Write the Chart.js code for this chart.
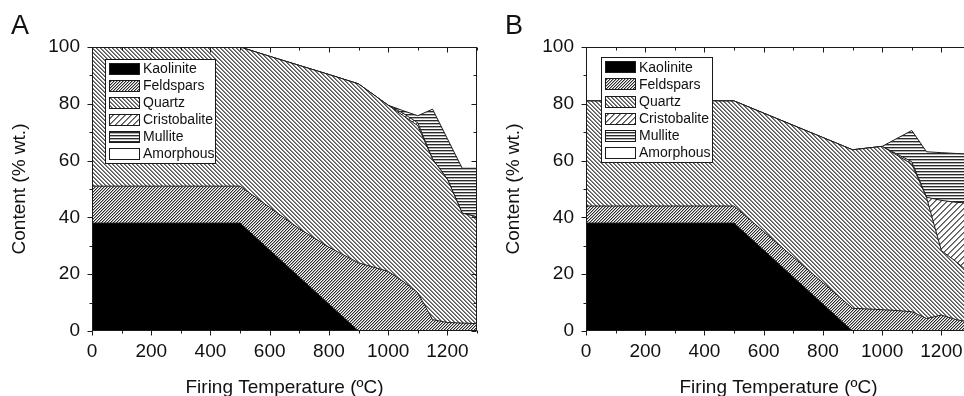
<!DOCTYPE html>
<html>
<head>
<meta charset="utf-8">
<script src="https://cdn.jsdelivr.net/npm/chart.js@4.4.1/dist/chart.umd.min.js"></script>
<style>
  html, body { margin: 0; padding: 0; background: #fff; overflow: hidden; width: 964px; height: 396px; }
  .panel { position: absolute; top: 0; width: 490px; height: 396px; }
  #panelA { left: 0; }
  #panelB { left: 494px; }
</style>
</head>
<body>
<div class="panel" id="panelA"><canvas id="chartA"></canvas></div>
<div class="panel" id="panelB"><canvas id="chartB"></canvas></div>
<script>
// Firing temperatures (ºC) shared by both panels
const temperatures = [0, 500, 600, 700, 800, 900, 1000, 1050, 1100, 1150, 1200, 1250, 1300];
const phases = ['Kaolinite', 'Feldspars', 'Quartz', 'Cristobalite', 'Mullite', 'Amorphous'];
const xTickValues = [0, 200, 400, 600, 800, 1000, 1200];
const yTickValues = [0, 20, 40, 60, 80, 100];

// Panel A - content of each phase (% wt.), stacked bottom to top
const kaoliniteA    = [38, 38, 28.5, 19, 9.5, 0, 0, 0, 0, 0, 0, 0, 0];
const feldsparsA    = [13, 13, 15, 17, 20, 24, 21, 17.5, 13.5, 4, 3, 2.8, 2.6];
const quartzA       = [49, 49, 53.2, 57.5, 60.8, 63, 58.5, 58.4, 58.8, 56.5, 50.5, 38.7, 37.6];
const cristobaliteA = [0, 0, 0, 0, 0, 0, 0, 0.8, 1.0, 0, 0, 0, 0];
const mulliteA      = [0, 0, 0, 0, 0, 0, 0, 0.9, 2.5, 17.6, 14.2, 15.8, 17.1];
const amorphousA    = [0, 0, 3.3, 6.5, 9.7, 13, 20.5, 22.4, 24.2, 21.9, 32.3, 42.7, 42.7];

// Panel B
const kaoliniteB    = [38, 38, 28.5, 19, 9.5, 0, 0, 0, 0, 0, 0, 0, 0];
const feldsparsB    = [6, 6, 6.5, 7, 7.5, 8, 7.5, 7.2, 6.8, 4.4, 5.6, 4, 3];
const quartzB       = [37, 37, 41.7, 46.4, 51.1, 55.8, 57.5, 54.7, 52, 42.5, 22.7, 20.4, 17];
const cristobaliteB = [0, 0, 0, 0, 0, 0, 0, 0.4, 0.8, 0.2, 17.7, 20.9, 25];
const mulliteB      = [0, 0, 0, 0, 0, 0, 0, 5.5, 11, 16, 16.8, 17.2, 17.3];
const amorphousB    = [19, 19, 23.3, 27.6, 31.9, 36.2, 35, 32.2, 29.4, 36.9, 37.2, 37.5, 37.7];

const FONT = "'Liberation Sans', Arial, sans-serif";

// pixel hatch tiles: dir '/', '\\' or '-'; shades = colours of successive pixels in a stroke
function hatch(ctx, size, dir, shades) {
    const c = document.createElement('canvas');
    c.width = size; c.height = size;
    const g = c.getContext('2d');
    g.fillStyle = '#fff';
    g.fillRect(0, 0, size, size);
    for (let r = 0; r < size; r++) {
        if (dir === '-') {
            if (r < shades.length) { g.fillStyle = shades[r]; g.fillRect(0, r, size, 1); }
            continue;
        }
        const x0 = dir === '/' ? size - 1 - r : r;
        shades.forEach((col, k) => {
            g.fillStyle = col;
            g.fillRect((x0 + k) % size, r, 1, 1);
        });
    }
    return ctx.createPattern(c, 'repeat');
}

function phaseFills(ctx) {
    return [
        '#000',
        hatch(ctx, 3, '/', ['#2a2a2a', '#a8a8a8']),
        hatch(ctx, 4, '\\', ['#555', '#8a8a8a']),
        hatch(ctx, 6, '/', ['#555', '#8a8a8a']),
        hatch(ctx, 3, '-', ['#2a2a2a', '#b0b0b0']),
        '#fff'
    ];
}

// frame with inward ticks on top/right, outward on bottom/left
const frameTicks = {
    id: 'frameTicks',
    afterDatasetsDraw(chart) {
        const { ctx, chartArea: a, scales: { x, y } } = chart;
        const L = Math.round(a.left) + 0.5, R = Math.round(a.right) - 0.5;
        const T = Math.round(a.top) + 0.5, B = Math.round(a.bottom) - 0.5;
        ctx.save();
        ctx.strokeStyle = '#1a1a1a';
        ctx.lineWidth = 1;
        ctx.strokeRect(L, T, R - L, B - T);
        ctx.beginPath();
        const xs = [];
        xTickValues.forEach(v => { xs.push([v, 5]); xs.push([v + 100, 3]); });
        xs.forEach(([v, len]) => {
            const px = Math.round(x.getPixelForValue(v)) + 0.5;
            if (px > R + 1) return;
            ctx.moveTo(px, B); ctx.lineTo(px, B + len);
            ctx.moveTo(px, T); ctx.lineTo(px, T + len);
        });
        const ys = [];
        yTickValues.forEach(v => { ys.push([v, 5]); if (v < 100) ys.push([v + 10, 3]); });
        ys.forEach(([v, len]) => {
            const py = Math.round(y.getPixelForValue(v)) + 0.5;
            ctx.moveTo(L - len, py); ctx.lineTo(L, py);
            ctx.moveTo(R, py); ctx.lineTo(R - len, py);
        });
        ctx.stroke();
        ctx.restore();
    }
};

// legend box drawn inside the plot, with pattern swatches
const hatchLegend = {
    id: 'hatchLegend',
    afterDraw(chart, args, opts) {
        const { ctx } = chart;
        ctx.save();
        ctx.fillStyle = '#fff';
        ctx.fillRect(opts.left, opts.top, opts.width, opts.height);
        ctx.strokeStyle = '#1a1a1a';
        ctx.lineWidth = 1;
        ctx.strokeRect(opts.left + 0.5, opts.top + 0.5, opts.width, opts.height);
        ctx.font = '14px ' + FONT;
        ctx.textBaseline = 'middle';
        chart.data.datasets.forEach((ds, i) => {
            const cy = opts.rowTop + i * opts.rowStep;
            const sy = Math.round(cy - 5.5);
            ctx.fillStyle = ds.backgroundColor;
            ctx.fillRect(opts.swatchX, sy, 30, 11);
            ctx.strokeRect(opts.swatchX + 0.5, sy + 0.5, 30, 11);
            ctx.fillStyle = '#111';
            ctx.fillText(ds.label, opts.textX, cy + 1);
        });
        // panel letter
        ctx.font = '27px ' + FONT;
        ctx.textBaseline = 'alphabetic';
        ctx.fillStyle = '#111';
        ctx.fillText(opts.letter, opts.letterX, 34);
        ctx.restore();
    }
};

function buildChart(canvasId, series, legendOpts) {
    const ctx = document.getElementById(canvasId).getContext('2d');
    const fills = phaseFills(ctx);
    const datasets = phases.map((name, i) => ({
        label: name,
        data: temperatures.map((t, j) => ({ x: t, y: series[i][j] })),
        fill: i === 0 ? 'origin' : '-1',
        backgroundColor: fills[i],
        borderColor: '#1a1a1a',
        borderWidth: i === 5 ? 0 : 1,
        pointRadius: 0,
        tension: 0
    }));
    return new Chart(ctx, {
        type: 'line',
        data: { datasets },
        plugins: [frameTicks, hatchLegend],
        options: {
            responsive: true,
            maintainAspectRatio: false,
            animation: false,
            layout: { padding: { left: 0, top: 47, right: 13, bottom: 0 } },
            plugins: {
                legend: { display: false },
                tooltip: { enabled: false },
                hatchLegend: legendOpts
            },
            scales: {
                x: {
                    type: 'linear',
                    min: 0,
                    max: 1300,
                    afterBuildTicks: s => { s.ticks = xTickValues.map(v => ({ value: v })); },
                    afterFit: s => { s.height = 65; },
                    grid: { display: false, drawTicks: false },
                    border: { display: false },
                    ticks: {
                        padding: 9, color: '#111', maxRotation: 0,
                        font: { family: FONT, size: 19 },
                        callback: v => String(v)
                    },
                    title: {
                        display: true,
                        text: 'Firing Temperature (ºC)',
                        color: '#111',
                        font: { family: FONT, size: 19, lineHeight: 1 },
                        padding: { top: 0, bottom: -1.5 }
                    }
                },
                y: {
                    stacked: true,
                    min: 0,
                    max: 100,
                    afterBuildTicks: s => { s.ticks = yTickValues.map(v => ({ value: v })); },
                    afterFit: s => { s.width = 92; },
                    grid: { display: false, drawTicks: false },
                    border: { display: false },
                    ticks: {
                        padding: 12, color: '#111',
                        font: { family: FONT, size: 19 },
                        callback: v => String(v)
                    },
                    title: {
                        display: true,
                        text: 'Content (% wt.)',
                        color: '#111',
                        font: { family: FONT, size: 19, lineHeight: 1 },
                        padding: { top: 10, bottom: 0 }
                    }
                }
            }
        }
    });
}

const chartA = buildChart('chartA',
    [kaoliniteA, feldsparsA, quartzA, cristobaliteA, mulliteA, amorphousA],
    { left: 105, top: 59, width: 110, height: 104, swatchX: 109, textX: 143, rowTop: 68.3, rowStep: 17, letter: 'A', letterX: 11 });

const chartB = buildChart('chartB',
    [kaoliniteB, feldsparsB, quartzB, cristobaliteB, mulliteB, amorphousB],
    { left: 107, top: 57, width: 111, height: 105, swatchX: 111, textX: 145, rowTop: 66.8, rowStep: 17.1, letter: 'B', letterX: 11 });
</script>
</body>
</html>
